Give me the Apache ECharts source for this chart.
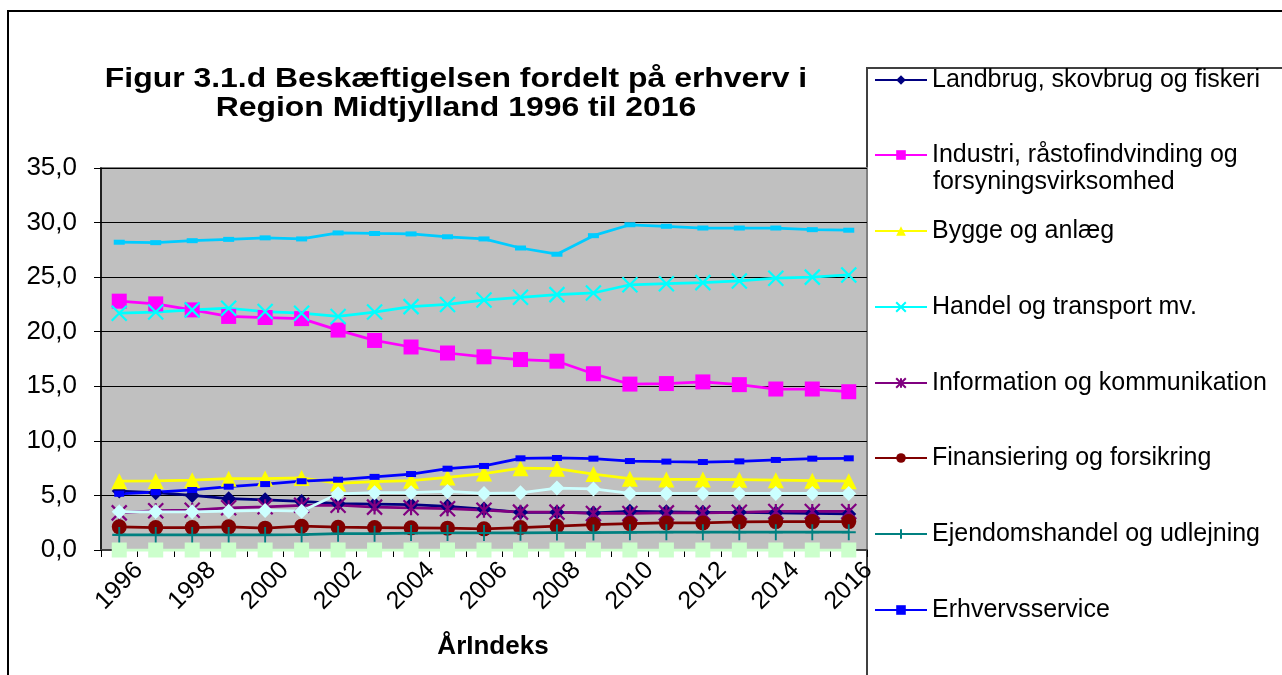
<!DOCTYPE html>
<html>
<head>
<meta charset="utf-8">
<script src="https://cdn.jsdelivr.net/npm/echarts@6/dist/echarts.min.js"></script>
<style>html,body{margin:0;padding:0;background:#fff}#c{width:1282px;height:675px}</style>
</head>
<body>
<div id="c"></div>
<script>
const years = ['1996','1997','1998','1999','2000','2001','2002','2003','2004','2005','2006','2007','2008','2009','2010','2011','2012','2013','2014','2015','2016'];
const landbrug = [5.4, 5.25, 5.0, 4.7, 4.6, 4.45, 4.25, 4.2, 4.15, 4.0, 3.75, 3.45, 3.45, 3.4, 3.55, 3.5, 3.45, 3.45, 3.4, 3.35, 3.3];
const industri = [22.8, 22.55, 22.0, 21.4, 21.3, 21.2, 20.15, 19.2, 18.6, 18.05, 17.7, 17.45, 17.3, 16.15, 15.2, 15.25, 15.4, 15.15, 14.75, 14.75, 14.5];
const bygge = [6.3, 6.33, 6.4, 6.53, 6.55, 6.6, 6.1, 6.26, 6.35, 6.65, 7.0, 7.5, 7.45, 6.96, 6.53, 6.47, 6.47, 6.44, 6.4, 6.35, 6.3];
const handel = [21.7, 21.8, 22.0, 22.15, 21.85, 21.7, 21.4, 21.8, 22.3, 22.5, 22.9, 23.15, 23.4, 23.55, 24.3, 24.4, 24.5, 24.65, 24.9, 25.0, 25.2];
const information = [3.4, 3.6, 3.65, 3.87, 3.96, 4.1, 4.1, 3.93, 3.87, 3.78, 3.65, 3.47, 3.47, 3.35, 3.35, 3.4, 3.4, 3.45, 3.53, 3.53, 3.53];
const finansiering = [2.12, 2.06, 2.06, 2.12, 2.0, 2.18, 2.09, 2.06, 2.03, 2.0, 1.94, 2.06, 2.18, 2.33, 2.42, 2.48, 2.48, 2.57, 2.6, 2.6, 2.6];
const ejendom = [1.38, 1.38, 1.38, 1.38, 1.38, 1.4, 1.5, 1.5, 1.55, 1.56, 1.56, 1.58, 1.6, 1.6, 1.62, 1.63, 1.63, 1.63, 1.63, 1.63, 1.63];
const erhverv = [5.15, 5.3, 5.5, 5.8, 6.04, 6.3, 6.44, 6.7, 6.96, 7.45, 7.7, 8.4, 8.43, 8.37, 8.15, 8.1, 8.06, 8.12, 8.25, 8.37, 8.4];
const offentlig = [28.2, 28.16, 28.34, 28.46, 28.6, 28.5, 29.05, 29.0, 28.96, 28.7, 28.5, 27.67, 27.1, 28.8, 29.8, 29.66, 29.5, 29.5, 29.5, 29.35, 29.3];
const kultur = [3.5, 3.5, 3.5, 3.56, 3.62, 3.56, 5.15, 5.25, 5.25, 5.37, 5.18, 5.24, 5.67, 5.6, 5.18, 5.18, 5.18, 5.18, 5.18, 5.18, 5.18];
const uoplyst = [0, 0, 0, 0, 0, 0, 0, 0, 0, 0, 0, 0, 0, 0, 0, 0, 0, 0, 0, 0, 0];

const titleLines = ['Figur 3.1.d Beskæftigelsen fordelt på erhverv i', 'Region Midtjylland 1996 til 2016'];

const names = {
  landbrug: 'Landbrug, skovbrug og fiskeri',
  industri: 'Industri, råstofindvinding og forsyningsvirksomhed',
  bygge: 'Bygge og anlæg',
  handel: 'Handel og transport mv.',
  information: 'Information og kommunikation',
  finansiering: 'Finansiering og forsikring',
  ejendom: 'Ejendomshandel og udlejning',
  erhverv: 'Erhvervsservice',
  offentlig: 'Offentlig administration, undervisning og sundhed',
  kultur: 'Kultur, fritid og anden service',
  uoplyst: 'Uoplyst aktivitet'
};

const FONT = '"Liberation Sans", Arial, sans-serif';
const X_PATH = 'path://M0,0L10,10M10,0L0,10';
const AST_PATH = 'path://M0,0L10,10M10,0L0,10M5,0L5,10';
const PLUS_PATH = 'path://M5,0L5,10M2.5,5L7.5,5';

function line(name, data, color, symbol, size, extra) {
  const s = {
    name: name, type: 'line', data: data, color: color,
    symbol: symbol, symbolSize: size,
    lineStyle: { color: color, width: 2.75 },
    itemStyle: { color: color },
    emphasis: { disabled: true },
    clip: false,
    animation: false
  };
  return Object.assign(s, extra || {});
}

const series = [
  line(names.landbrug, landbrug, '#000080', 'diamond', 15),
  line(names.industri, industri, '#FF00FF', 'rect', 15),
  line(names.bygge, bygge, '#FFFF00', 'triangle', 16),
  line(names.handel, handel, '#00FFFF', X_PATH, 15, { itemStyle: { color: 'rgba(0,0,0,0)', borderColor: '#00FFFF', borderWidth: 2.2 } }),
  line(names.information, information, '#800080', AST_PATH, 15, { itemStyle: { color: 'rgba(0,0,0,0)', borderColor: '#800080', borderWidth: 2.2 } }),
  line(names.finansiering, finansiering, '#800000', 'circle', 15),
  line(names.ejendom, ejendom, '#008080', PLUS_PATH, [14, 16], { itemStyle: { color: 'rgba(0,0,0,0)', borderColor: '#008080', borderWidth: 2 } }),
  line(names.erhverv, erhverv, '#0000FF', 'rect', [10, 6]),
  line(names.offentlig, offentlig, '#00CCFF', 'rect', [11, 5]),
  line(names.kultur, kultur, '#CCFFFF', 'diamond', 15),
  line(names.uoplyst, uoplyst, '#CCFFCC', 'rect', 15)
];

const legendItems = [
  [names.landbrug, 80],
  [names.industri, 155],
  [names.bygge, 231],
  [names.handel, 307],
  [names.information, 383],
  [names.finansiering, 458],
  [names.ejendom, 534],
  [names.erhverv, 610]
];
const legends = legendItems.map(function (it) {
  return {
    data: [it[0]], left: 874, top: it[1] - 13, orient: 'vertical',
    itemWidth: 52, itemHeight: 12, itemGap: 0, padding: 0,
    selectedMode: false,
    textStyle: { fontSize: 25, color: '#000', fontFamily: FONT, lineHeight: 26 },
    formatter: function (n) { return n === names.industri ? 'Industri, råstofindvinding og' : n; }
  };
});

const titleStyle = { fontSize: 28.5, fontWeight: 'bold', fontFamily: FONT, fill: '#000', textAlign: 'center', textVerticalAlign: 'middle' };

const chart = echarts.init(document.getElementById('c'), null, { renderer: 'canvas' });
chart.setOption({
  backgroundColor: '#fff',
  animation: false,
  legend: legends,
  graphic: [
    { type: 'rect', shape: { x: 8, y: 11, width: 1400, height: 800 }, style: { fill: 'none', stroke: '#000', lineWidth: 2 }, silent: true, z: -10 },
    { type: 'rect', shape: { x: 867, y: 68, width: 600, height: 800 }, style: { fill: 'none', stroke: '#404040', lineWidth: 2 }, silent: true, z: -10 },
    { type: 'text', x: 456, y: 79, scaleX: 1.12, style: Object.assign({ text: titleLines[0] }, titleStyle), silent: true },
    { type: 'text', x: 456, y: 108, scaleX: 1.12, style: Object.assign({ text: titleLines[1] }, titleStyle), silent: true },
    { type: 'text', left: 933, top: 170, style: { text: 'forsyningsvirksomhed', fontSize: 25, fontFamily: FONT, fill: '#000' }, silent: true }
  ],
  grid: {
    left: 101, right: 415, top: 168, bottom: 125,
    show: true, backgroundColor: '#C0C0C0', borderColor: '#808080', borderWidth: 2
  },
  xAxis: {
    type: 'category', data: years, boundaryGap: true,
    name: 'ÅrIndeks', nameLocation: 'middle', nameGap: 84,
    nameTextStyle: { fontSize: 26, fontWeight: 'bold', fontFamily: FONT, color: '#000', padding: [0, 0, 0, 18] },
    axisLine: { show: true, lineStyle: { color: '#404040', width: 2 } },
    axisTick: { show: true, interval: 0, length: 7, inside: false, alignWithLabel: false, lineStyle: { color: '#000', width: 1 } },
    axisLabel: { interval: 1, rotate: 45, margin: 36, align: 'center', verticalAlign: 'middle', fontSize: 25, fontFamily: FONT, color: '#000' },
    splitLine: { show: false }
  },
  yAxis: {
    type: 'value', min: 0, max: 35, interval: 5,
    axisLine: { show: true, lineStyle: { color: '#000', width: 1.5 } },
    axisTick: { show: true, length: 7, inside: false, lineStyle: { color: '#000' } },
    axisLabel: { margin: 24, fontSize: 26, fontFamily: FONT, color: '#000', formatter: function (v) { return v.toFixed(1).replace('.', ','); } },
    splitLine: { show: true, lineStyle: { color: '#000', width: 1 } }
  },
  series: series
});
</script>
</body>
</html>
